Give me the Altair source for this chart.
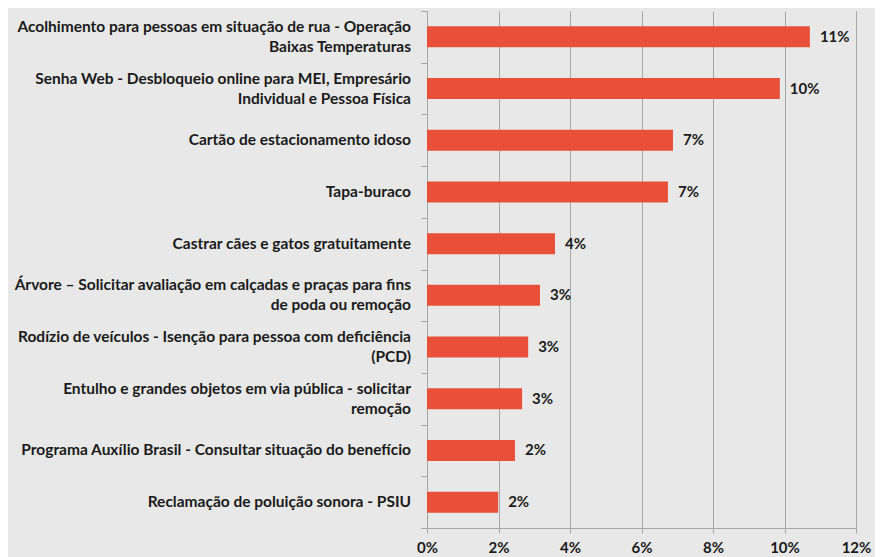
import altair as alt
import pandas as pd

categories = [
    "Acolhimento para pessoas em situação de rua - Operação|Baixas Temperaturas",
    "Senha Web - Desbloqueio online para MEI, Empresário|Individual e Pessoa Física",
    "Cartão de estacionamento idoso",
    "Tapa-buraco",
    "Castrar cães e gatos gratuitamente",
    "Árvore – Solicitar avaliação em calçadas e praças para fins|de poda ou remoção",
    "Rodízio de veículos - Isenção para pessoa com deficiência|(PCD)",
    "Entulho e grandes objetos em via pública - solicitar|remoção",
    "Programa Auxílio Brasil - Consultar situação do benefício",
    "Reclamação de poluição sonora - PSIU",
]
values = [0.1071, 0.0987, 0.0688, 0.0674, 0.0358, 0.0316, 0.0283, 0.0266, 0.0246, 0.0199]
x_ticks = [0, 0.02, 0.04, 0.06, 0.08, 0.10, 0.12]

df = pd.DataFrame({"cat": categories, "val": values})

FONT = "Lato"
BG = "#E8E8E8"
BAR = "#E9503A"
GRID = "#A6A6A6"
TXT = "#1A1A1A"

y = alt.Y(
    "cat:N",
    sort=categories,
    scale=alt.Scale(paddingInner=0, paddingOuter=0),
    axis=alt.Axis(
        title=None,
        labels=False,
        tickBand="extent",
        tickSize=6,
        tickColor=GRID,
        domainColor=GRID,
        grid=False,
    ),
)

x = alt.X(
    "val:Q",
    scale=alt.Scale(domain=[0, 0.12], nice=False),
    axis=alt.Axis(
        title=None,
        values=x_ticks,
        format=".0%",
        labelFont=FONT,
        labelFontWeight="bold",
        labelFontSize=15,
        labelColor=TXT,
        labelPadding=7,
        labelFlush=False,
        tickSize=5,
        tickColor=GRID,
        domainColor=GRID,
        grid=True,
        gridColor=GRID,
        gridWidth=1,
    ),
)

bars = alt.Chart(df).mark_bar(size=21, color=BAR).encode(x=x, y=y)

values_text = alt.Chart(df).mark_text(
    align="left", baseline="middle", dx=10, font=FONT, fontWeight="bold",
    fontSize=15, color=TXT
).encode(
    x=alt.X("val:Q"),
    y=alt.Y("cat:N", sort=categories),
    text=alt.Text("val:Q", format=".0%"),
)


def cat_layer(test, dy):
    return alt.Chart(df).transform_filter(test).mark_text(
        align="right", baseline="middle", font=FONT, fontWeight="bold",
        fontSize=15.5, color=TXT, lineBreak="|", lineHeight=20, dx=-16, dy=dy
    ).encode(
        x=alt.value(0),
        y=alt.Y("cat:N", sort=categories),
        text="cat:N",
    )


single = cat_layer("indexof(datum.cat, '|') < 0", 0)
multi = cat_layer("indexof(datum.cat, '|') >= 0", -10)

chart = (
    alt.layer(bars, values_text, single, multi)
    .properties(
        width=429,
        height=517,
        autosize=alt.AutoSizeParams(type="none"),
        padding={"left": 419, "top": 3, "right": 19, "bottom": 29},
        background=BG,
    )
    .configure_view(stroke=None)
)

chart.save("out.html", embed_options={"renderer": "svg", "actions": False})
